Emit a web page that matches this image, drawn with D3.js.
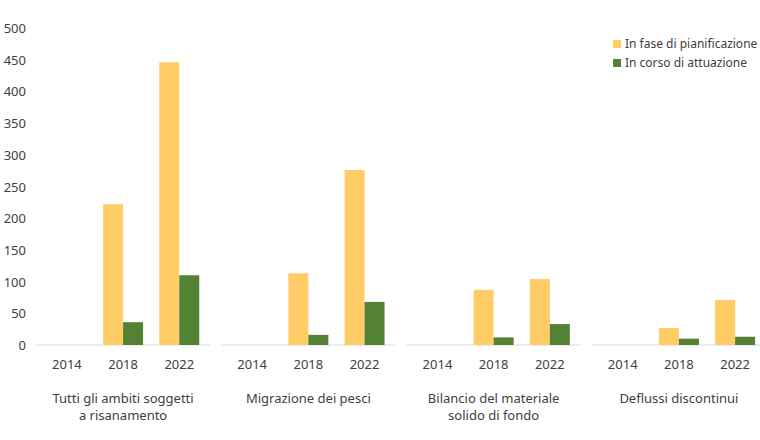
<!DOCTYPE html>
<html><head><meta charset="utf-8">
<script src="https://cdn.jsdelivr.net/npm/d3@7"></script>
<style>body{margin:0;background:#fff}text{font-family:"Noto Sans",sans-serif;fill:#404040}</style>
</head><body><svg id="c" width="760" height="440"></svg>
<script>
const groups = [['Tutti gli ambiti soggetti', 'a risanamento'], ['Migrazione dei pesci'], ['Bilancio del materiale', 'solido di fondo'], ['Deflussi discontinui']]
const years = ['2014', '2018', '2022']
const planned = [[0, 222, 446], [0, 113, 276], [0, 87, 104], [0, 27, 71]]
const active = [[0, 36, 110], [0, 16, 68], [0, 12, 33], [0, 10, 13]]
const yTicks = [0, 50, 100, 150, 200, 250, 300, 350, 400, 450, 500]
const seriesNames = ['In fase di pianificazione', 'In corso di attuazione']
const colors = ['#FFCC66', '#548235']

const svg = d3.select('#c')
const y = d3.scaleLinear().domain([0, 500]).range([345, 28])
const x0 = d3.scaleBand().domain(d3.range(groups.length)).range([36, 766]).paddingInner(0.06)
const x1 = d3.scaleBand().domain(years).range([0, x0.bandwidth()]).padding(0.1)
const bw = 20

svg.selectAll('.yt').data(yTicks).enter().append('text')
  .attr('x', 26).attr('y', d => y(d) + 5).attr('text-anchor', 'end')
  .style('font-size', '13px').text(d => d)

groups.forEach((g, gi) => {
  const gx = svg.append('g').attr('transform', `translate(${x0(gi)},0)`)
  gx.append('line').attr('x1', 0).attr('x2', x0.bandwidth())
    .attr('y1', y(0)).attr('y2', y(0)).style('stroke', '#d9d9d9')
  years.forEach((yr, i) => {
    const c = x1(yr) + x1.bandwidth() / 2
    gx.append('rect').attr('x', c - bw).attr('width', bw)
      .attr('y', y(planned[gi][i])).attr('height', y(0) - y(planned[gi][i])).attr('fill', colors[0])
    gx.append('rect').attr('x', c).attr('width', bw)
      .attr('y', y(active[gi][i])).attr('height', y(0) - y(active[gi][i])).attr('fill', colors[1])
    gx.append('text').attr('x', c).attr('y', 369).attr('text-anchor', 'middle')
      .style('font-size', '13px').text(yr)
  })
  g.forEach((line, li) => {
    gx.append('text').attr('x', x0.bandwidth() / 2).attr('y', 403 + li * 17)
      .attr('text-anchor', 'middle').style('font-size', '13px').text(line)
  })
})

seriesNames.forEach((s, i) => {
  svg.append('rect').attr('x', 613).attr('y', 40 + i * 19).attr('width', 8).attr('height', 8).attr('fill', colors[i])
  svg.append('text').attr('x', 625).attr('y', 48 + i * 19).style('font-size', '12px').text(s)
})
</script></body></html>
